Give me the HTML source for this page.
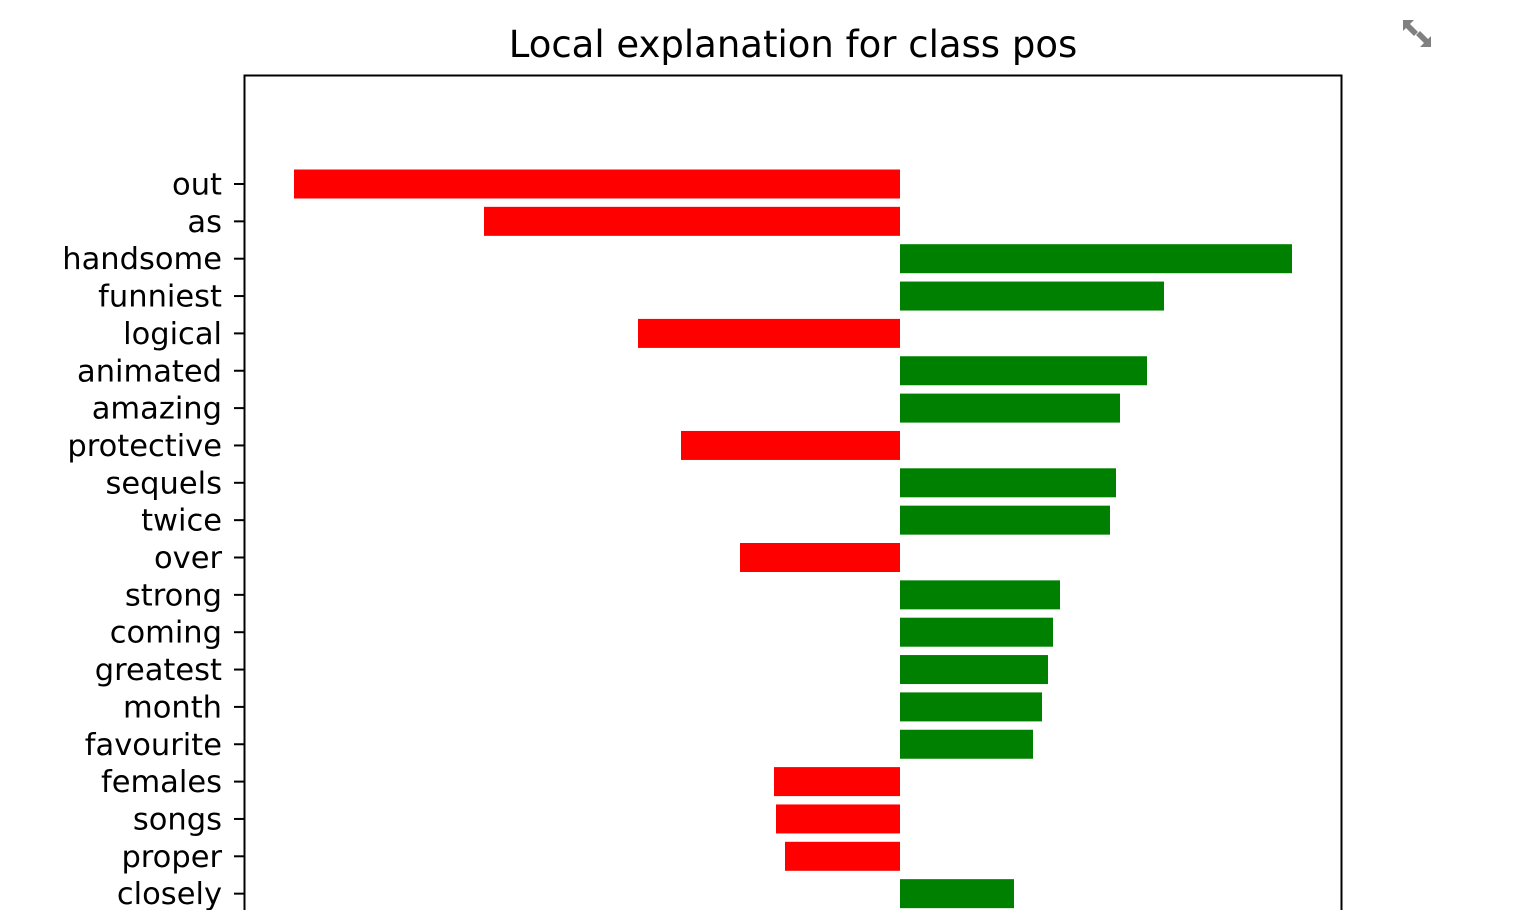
<!DOCTYPE html>
<html><head><meta charset="utf-8"><style>
html,body{margin:0;padding:0;background:#fff;width:1524px;height:910px;overflow:hidden}
svg{display:block;overflow:hidden}
text{font-family:"DejaVu Sans","Liberation Sans",sans-serif}
</style></head><body>
<svg id="chart" width="1524" height="910" xmlns="http://www.w3.org/2000/svg">
<text x="793" y="57" font-size="37" text-anchor="middle" fill="#000">Local explanation for class pos</text>
<g fill="#808080">
<polygon points="1403,20 1414,20 1410,24 1418,32 1414,36 1406,28 1403,31"/>
<polygon points="1431,47 1420,47 1424,43 1416,35 1420,31 1428,39 1431,36"/>
</g>
<g id="bars"></g>
<g id="yaxis"></g>
<path d="M244.5,910 V75.5 H1341.5 V910" fill="none" stroke="#000" stroke-width="2"/>
</svg>
<script>
const categories = ["out","as","handsome","funniest","logical","animated","amazing","protective","sequels","twice","over","strong","coming","greatest","month","favourite","females","songs","proper","closely"];
const weights = [-0.606,-0.416,0.392,0.264,-0.262,0.247,0.220,-0.219,0.216,0.210,-0.160,0.160,0.153,0.148,0.142,0.133,-0.126,-0.124,-0.115,0.114];
const NS="http://www.w3.org/2000/svg";
function xScale(v){return 900 + v*1000;}
function yScale(i){return 184 + i*37.35;}
const bars=document.getElementById('bars'), yaxis=document.getElementById('yaxis');
categories.forEach((c,i)=>{
  const v=weights[i], y=yScale(i);
  const r=document.createElementNS(NS,'rect');
  
  
  const x0=Math.min(xScale(0),xScale(v)), w=Math.abs(xScale(v)-xScale(0));
  r.setAttribute('x',x0);r.setAttribute('y',y-14.5);r.setAttribute('width',w);r.setAttribute('height',29);
  r.setAttribute('fill',v<0?'#ff0000':'#008000');
  bars.appendChild(r);
  const t=document.createElementNS(NS,'line');
  
  
  t.setAttribute('x1',234);t.setAttribute('x2',244);t.setAttribute('y1',y);t.setAttribute('y2',y);
  t.setAttribute('stroke','#000');t.setAttribute('stroke-width','2');
  yaxis.appendChild(t);
  const l=document.createElementNS(NS,'text');
  
  
  l.setAttribute('x',222);l.setAttribute('y',y+10.5);l.setAttribute('text-anchor','end');
  l.setAttribute('font-size','30.5');l.textContent=c;
  yaxis.appendChild(l);
});
</script>
</body></html>
